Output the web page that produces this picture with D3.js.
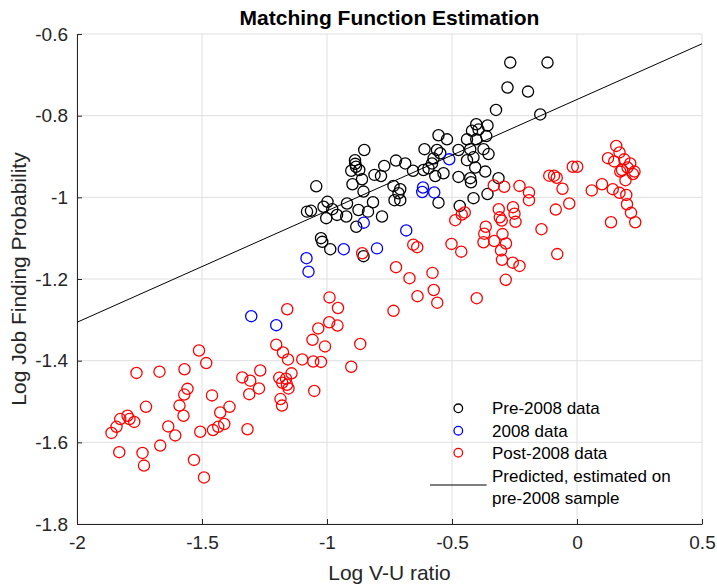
<!DOCTYPE html>
<html>
<head>
<meta charset="utf-8">
<script src="https://cdn.jsdelivr.net/npm/d3@7"></script>
<style>
  body { margin: 0; background: #fff; }
  svg { display: block; font-family: "Liberation Sans", Arial, Helvetica, sans-serif; }
</style>
</head>
<body>
<div id="chart"></div>
<script>
////////////////////////////////////////////////////////////
// DATA
////////////////////////////////////////////////////////////
// [log V-U ratio, log job finding probability]
var pre2008 = [
  [-0.851,-0.884],[-0.888,-0.909],[-0.887,-0.918],[-0.884,-0.925],[-0.903,-0.935],[-0.871,-0.933],
  [-0.771,-0.923],[-0.724,-0.910],[-0.687,-0.917],[-0.656,-0.935],[-0.810,-0.945],[-0.784,-0.948],
  [-0.898,-0.968],[-0.860,-0.956],[-1.043,-0.973],[-0.854,-0.986],[-0.816,-1.012],[-0.734,-0.972],
  [-0.707,-0.980],[-0.714,-0.990],[-0.730,-1.007],[-0.707,-1.007],[-0.998,-1.011],[-1.014,-1.023],
  [-0.979,-1.029],[-1.080,-1.035],[-1.064,-1.033],[-0.960,-1.043],[-1.003,-1.051],[-0.923,-1.047],
  [-0.920,-1.015],[-0.874,-1.031],[-0.836,-1.035],[-0.883,-1.072],[-0.780,-1.047],[-1.024,-1.100],
  [-1.019,-1.109],[-0.987,-1.127],[-0.854,-1.144],
  [-0.267,-0.670],[-0.118,-0.670],[-0.278,-0.731],[-0.196,-0.741],[-0.324,-0.786],[-0.147,-0.797],
  [-0.403,-0.821],[-0.358,-0.824],[-0.420,-0.837],[-0.394,-0.834],[-0.363,-0.850],[-0.440,-0.858],
  [-0.403,-0.858],[-0.554,-0.848],[-0.520,-0.858],[-0.610,-0.882],[-0.560,-0.884],[-0.547,-0.892],
  [-0.474,-0.884],[-0.427,-0.882],[-0.374,-0.882],[-0.354,-0.894],[-0.414,-0.902],[-0.440,-0.909],
  [-0.574,-0.905],[-0.580,-0.917],[-0.594,-0.929],[-0.614,-0.933],[-0.407,-0.927],[-0.367,-0.937],
  [-0.567,-0.948],[-0.534,-0.941],[-0.474,-0.950],[-0.427,-0.953],[-0.424,-0.963],[-0.314,-0.953],
  [-0.358,-0.992],[-0.414,-1.002],[-0.469,-1.021],[-0.554,-1.013]
];

var data2008 = [
  [-1.303,-1.291],[-1.203,-1.313],[-1.082,-1.149],[-1.074,-1.182],[-0.933,-1.127],[-0.800,-1.125],
  [-0.853,-1.062],[-0.683,-1.081],[-0.616,-0.976],[-0.619,-0.987],[-0.571,-0.988],[-0.511,-0.907]
];

var post2008 = [
  [-0.990,-1.245],[-0.956,-1.271],[-1.159,-1.274],[-0.991,-1.306],[-0.958,-1.314],[-1.035,-1.321],
  [-1.058,-1.349],[-1.008,-1.365],[-0.867,-1.359],[-1.203,-1.361],[-1.176,-1.380],[-1.156,-1.397],
  [-1.099,-1.397],[-1.055,-1.402],[-1.024,-1.403],[-0.903,-1.415],[-1.512,-1.375],[-1.483,-1.406],
  [-1.762,-1.430],[-1.670,-1.427],[-1.570,-1.421],[-1.267,-1.424],[-1.339,-1.441],[-1.307,-1.449],
  [-1.191,-1.442],[-1.164,-1.444],[-1.142,-1.431],[-1.179,-1.454],[-1.160,-1.459],[-1.154,-1.468],
  [-1.272,-1.468],[-1.311,-1.482],[-1.051,-1.474],[-1.558,-1.469],[-1.571,-1.483],[-1.460,-1.485],
  [-1.186,-1.494],[-1.180,-1.510],[-1.724,-1.513],[-1.590,-1.510],[-1.390,-1.513],[-1.574,-1.535],
  [-1.427,-1.527],[-1.798,-1.535],[-1.827,-1.543],[-1.790,-1.543],[-1.771,-1.550],[-1.842,-1.562],
  [-1.862,-1.577],[-1.635,-1.561],[-1.607,-1.583],[-1.507,-1.574],[-1.456,-1.570],[-1.435,-1.562],
  [-1.411,-1.555],[-1.318,-1.568],[-1.831,-1.624],[-1.738,-1.626],[-1.732,-1.657],[-1.667,-1.608],
  [-1.532,-1.643],[-1.492,-1.686],
  [-0.859,-1.137],[-0.724,-1.171],[-0.670,-1.198],[-0.578,-1.185],[-0.638,-1.242],[-0.573,-1.227],
  [-0.559,-1.258],[-0.734,-1.278],[-0.401,-1.247],[-0.655,-1.116],[-0.639,-1.122],[-0.502,-1.114],
  [-0.463,-1.133],[-0.487,-1.056],[-0.461,-1.042],[-0.449,-1.037],[-0.365,-1.072],[-0.371,-1.089],
  [-0.374,-1.110],[-0.331,-1.107],[-0.298,-1.090],[-0.284,-1.113],[-0.304,-1.130],[-0.300,-1.153],
  [-0.257,-1.160],[-0.230,-1.168],[-0.285,-1.202],[-0.313,-1.029],[-0.309,-1.049],[-0.301,-1.057],
  [-0.256,-1.024],[-0.250,-1.040],[-0.246,-1.060],[-0.333,-0.971],[-0.291,-0.974],[-0.230,-0.972],
  [-0.192,-0.988],[-0.192,-1.007],[-0.142,-1.078],[-0.085,-1.030],[-0.058,-0.979],[-0.031,-1.015],
  [-0.079,-1.139],[-0.111,-0.947],[-0.092,-0.947],[-0.081,-0.952],[-0.017,-0.925],[0.001,-0.925],
  [0.059,-0.983],[0.100,-0.968],[0.143,-0.980],[0.170,-0.989],[0.197,-0.994],[0.200,-1.017],
  [0.216,-1.038],[0.233,-1.061],[0.136,-1.061],[0.157,-0.874],[0.170,-0.890],[0.124,-0.904],
  [0.149,-0.912],[0.189,-0.907],[0.213,-0.917],[0.202,-0.927],[0.180,-0.933],[0.173,-0.937],
  [0.230,-0.937],[0.224,-0.943],[0.194,-0.958]
];

// fitted line end points (pre-2008 sample)
var predLine = [[-2, -1.306], [0.5, -0.624]];

var xTicks = [-2, -1.5, -1, -0.5, 0, 0.5];
var yTicks = [-1.8, -1.6, -1.4, -1.2, -1, -0.8, -0.6];

var legendLabels = ["Pre-2008 data", "2008 data", "Post-2008 data"];
var legendColors = ["#000000", "#0000ff", "#ff0000"];
var lineLabel = ["Predicted, estimated on", "pre-2008 sample"];

////////////////////////////////////////////////////////////
// DRAW
////////////////////////////////////////////////////////////
var W = 717, H = 586;
var margin = {top: 34, right: 15, bottom: 62, left: 77};
var width = W - margin.left - margin.right;
var height = H - margin.top - margin.bottom;

var x = d3.scaleLinear().domain([-2, 0.5]).range([0, width]);
var y = d3.scaleLinear().domain([-1.8, -0.6]).range([height, 0]);

var svg = d3.select("#chart").append("svg")
    .attr("width", W)
    .attr("height", H);

var g = svg.append("g")
    .attr("transform", "translate(" + margin.left + "," + margin.top + ")");

// grid
g.append("g").selectAll("line")
    .data(xTicks)
    .enter().append("line")
    .attr("x1", function(d) { return x(d); })
    .attr("x2", function(d) { return x(d); })
    .attr("y1", 0).attr("y2", height)
    .attr("stroke", "#dfdfdf").attr("stroke-width", 1);
g.append("g").selectAll("line")
    .data(yTicks)
    .enter().append("line")
    .attr("y1", function(d) { return y(d); })
    .attr("y2", function(d) { return y(d); })
    .attr("x1", 0).attr("x2", width)
    .attr("stroke", "#dfdfdf").attr("stroke-width", 1);

// axes (MATLAB style: ticks inside)
var fmt = function(d) { return d3.format("")(d).replace("−", "-"); };
var xAxis = g.append("g")
    .attr("transform", "translate(0," + height + ")")
    .call(d3.axisBottom(x).tickValues(xTicks).tickSizeInner(-5).tickSizeOuter(0).tickPadding(12)
        .tickFormat(fmt));
var yAxis = g.append("g")
    .call(d3.axisLeft(y).tickValues(yTicks).tickSizeInner(-5).tickSizeOuter(0).tickPadding(9)
        .tickFormat(fmt));

[xAxis, yAxis].forEach(function(a) {
    a.selectAll("path, line").attr("stroke", "#262626");
    a.selectAll("text")
        .attr("fill", "#262626")
        .style("font-size", "19px")
        .style("font-family", "'Liberation Sans', Arial, sans-serif");
});

// scatter
function addPoints(data, color) {
    g.append("g").selectAll("circle")
        .data(data)
        .enter().append("circle")
        .attr("cx", function(d) { return x(d[0]); })
        .attr("cy", function(d) { return y(d[1]); })
        .attr("r", 5.6)
        .attr("fill", "none")
        .attr("stroke", color)
        .attr("stroke-width", 1.3);
}
addPoints(pre2008, legendColors[0]);
addPoints(data2008, legendColors[1]);
addPoints(post2008, legendColors[2]);

// predicted line
var line = d3.line()
    .x(function(d) { return x(d[0]); })
    .y(function(d) { return y(d[1]); });
g.append("path")
    .datum(predLine)
    .attr("fill", "none")
    .attr("stroke", "#000")
    .attr("stroke-width", 1)
    .attr("d", line);

// title and labels
svg.append("text")
    .attr("x", margin.left + width / 2)
    .attr("y", 25)
    .attr("text-anchor", "middle")
    .style("font-size", "21px")
    .style("font-weight", "bold")
    .attr("fill", "#000")
    .text("Matching Function Estimation");

svg.append("text")
    .attr("x", margin.left + width / 2)
    .attr("y", 580)
    .attr("text-anchor", "middle")
    .style("font-size", "21px")
    .attr("fill", "#262626")
    .text("Log V-U ratio");

svg.append("text")
    .attr("transform", "translate(26," + (margin.top + height / 2) + ") rotate(-90)")
    .attr("text-anchor", "middle")
    .style("font-size", "21px")
    .attr("fill", "#262626")
    .text("Log Job Finding Probability");

// legend
var lg = svg.append("g");
var rowY = [408.3, 430.7, 452.7];
legendLabels.forEach(function(lab, i) {
    lg.append("circle")
        .attr("cx", 458.3).attr("cy", rowY[i]).attr("r", 4.3)
        .attr("fill", "none").attr("stroke", legendColors[i]).attr("stroke-width", 1.3);
    lg.append("text")
        .attr("x", 492).attr("y", rowY[i]).attr("dy", "0.35em")
        .style("font-size", "17px").attr("fill", "#000")
        .text(lab);
});
lg.append("line")
    .attr("x1", 430).attr("x2", 486.7)
    .attr("y1", 485).attr("y2", 485)
    .attr("stroke", "#000").attr("stroke-width", 1);
lineLabel.forEach(function(lab, i) {
    lg.append("text")
        .attr("x", 492).attr("y", 476 + i * 22.3).attr("dy", "0.35em")
        .style("font-size", "17px").attr("fill", "#000")
        .text(lab);
});
</script>
</body>
</html>
